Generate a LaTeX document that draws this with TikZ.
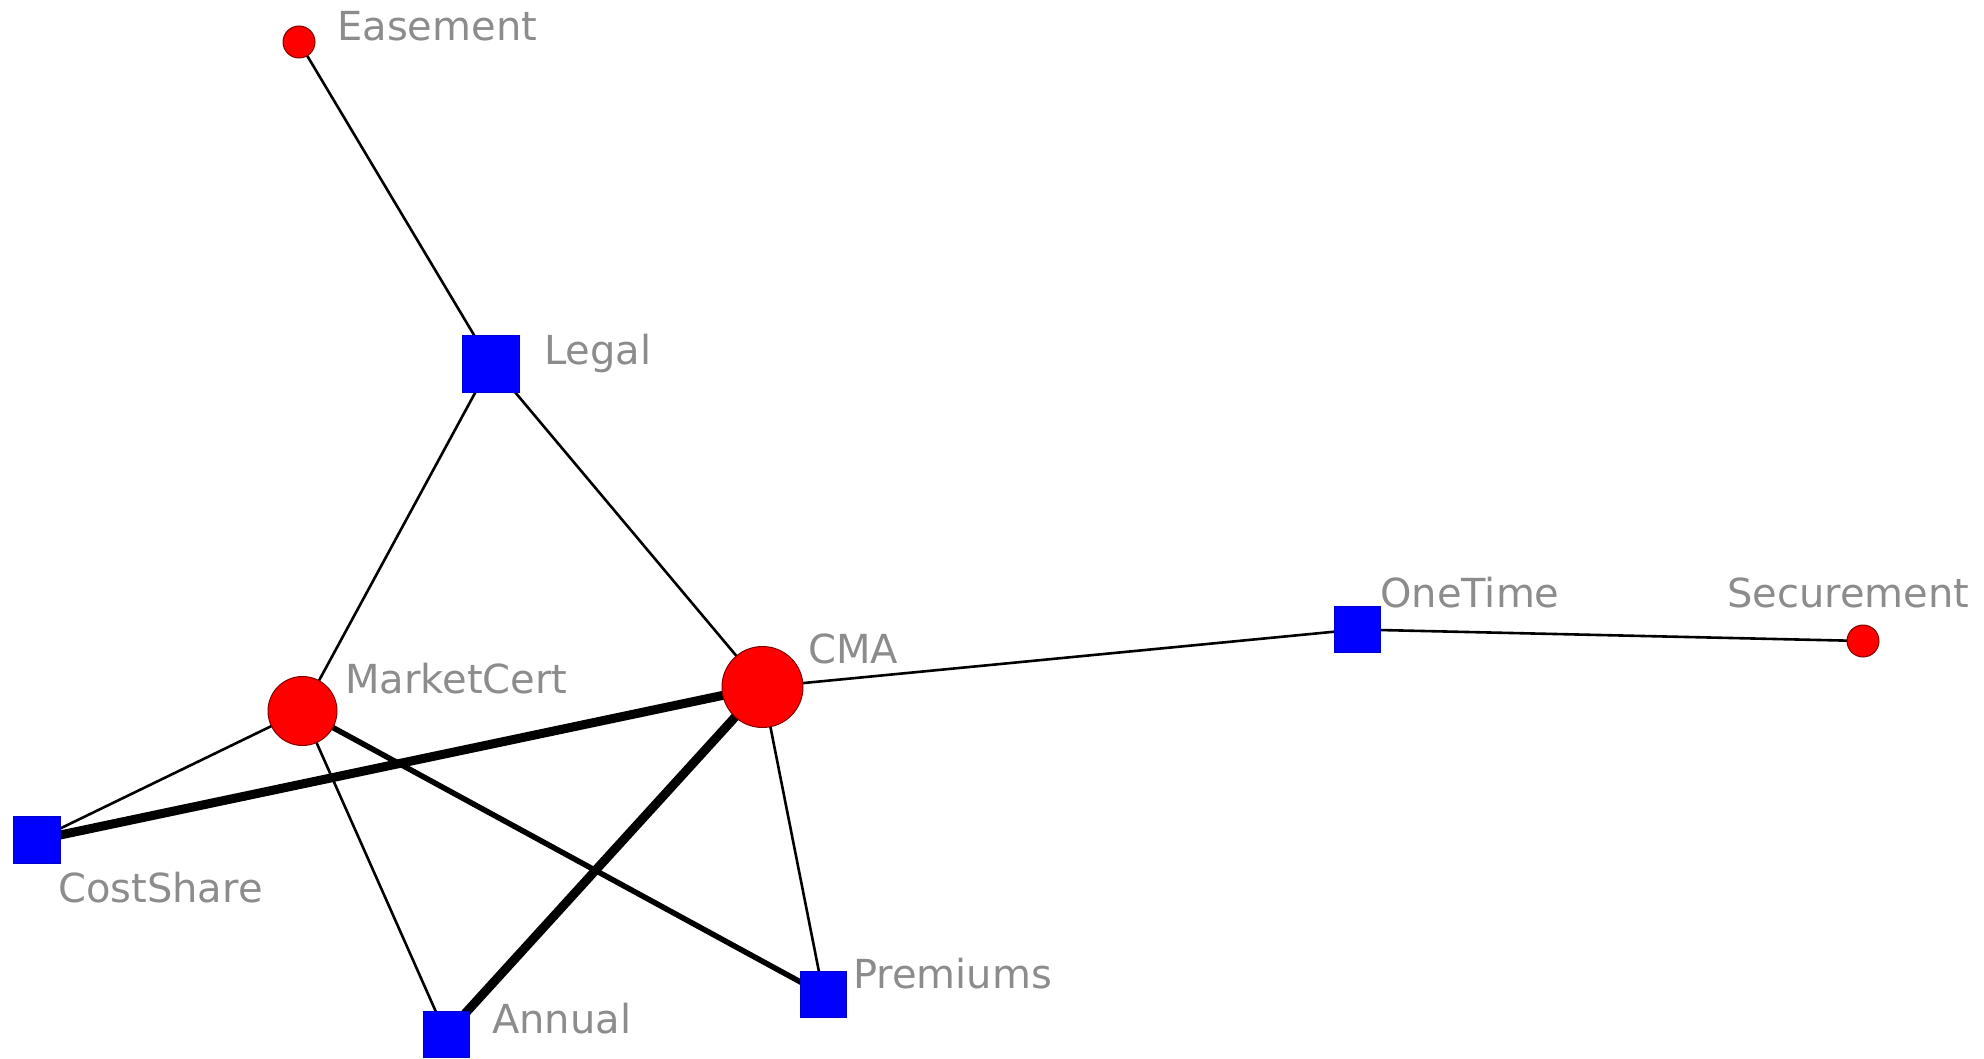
\documentclass[tikz,border=0pt]{standalone}
\usepackage{fontspec}
\setmainfont{DejaVu Sans}
\begin{document}
\begin{tikzpicture}[x=1pt,y=-1pt,
  rnode/.style={circle,draw=red!50!black,line width=1pt,fill=red,inner sep=0pt},
  bnode/.style={rectangle,draw=blue!80!black,line width=0.6pt,fill=blue,inner sep=0pt},
  lab/.style={anchor=base west,inner sep=0pt,text=gray!90!white,font=\fontsize{40}{47}\selectfont},
  thin edge/.style={line width=2.6pt},
  mid edge/.style={line width=5.5pt},
  thick edge/.style={line width=9pt}]
\useasboundingbox (0,0) rectangle (1984,1059);
% node coordinates
\coordinate (pE) at (299,42);
\coordinate (pL) at (491,363.5);
\coordinate (pM) at (302.5,711);
\coordinate (pC) at (762.5,687);
\coordinate (pO) at (1357,629.5);
\coordinate (pS) at (1863,641);
\coordinate (pCS) at (36.5,840);
\coordinate (pA) at (446,1034.5);
\coordinate (pP) at (823.5,994.5);
% edges
\draw[thin edge] (pE) -- (pL);
\draw[thin edge] (pL) -- (pM);
\draw[thin edge] (pL) -- (pC);
\draw[thin edge] (pC) -- (pO);
\draw[thin edge] (pO) -- (pS);
\draw[thin edge] (pM) -- (pCS);
\draw[thin edge] (pM) -- (pA);
\draw[thin edge] (pC) -- (pP);
\draw[mid edge] (pM) -- (pP);
\draw[thick edge] (pC) -- (pCS);
\draw[thick edge] (pC) -- (pA);
% nodes
\node[rnode,minimum size=32pt] (E) at (pE) {};
\node[bnode,minimum size=57pt] (L) at (pL) {};
\node[rnode,minimum size=69pt] (M) at (pM) {};
\node[rnode,minimum size=81pt] (C) at (pC) {};
\node[bnode,minimum size=46pt] (O) at (pO) {};
\node[rnode,minimum size=32pt] (S) at (pS) {};
\node[bnode,minimum size=47pt] (CS) at (pCS) {};
\node[bnode,minimum size=46pt] (A) at (pA) {};
\node[bnode,minimum size=46pt] (P) at (pP) {};
% labels
\node[lab] (tE) at (337,41) {Easement};
\node[lab] (tL) at (544,364) {Legal};
\node[lab] (tM) at (345,693) {MarketCert};
\node[lab] (tC) at (808,663) {CMA};
\node[lab] (tO) at (1380,607) {OneTime};
\node[lab] (tS) at (1727,607) {Securement};
\node[lab] (tCS) at (58,902) {CostShare};
\node[lab] (tA) at (492,1033) {Annual};
\node[lab] (tP) at (853,988) {Premiums};
\end{tikzpicture}
\end{document}
